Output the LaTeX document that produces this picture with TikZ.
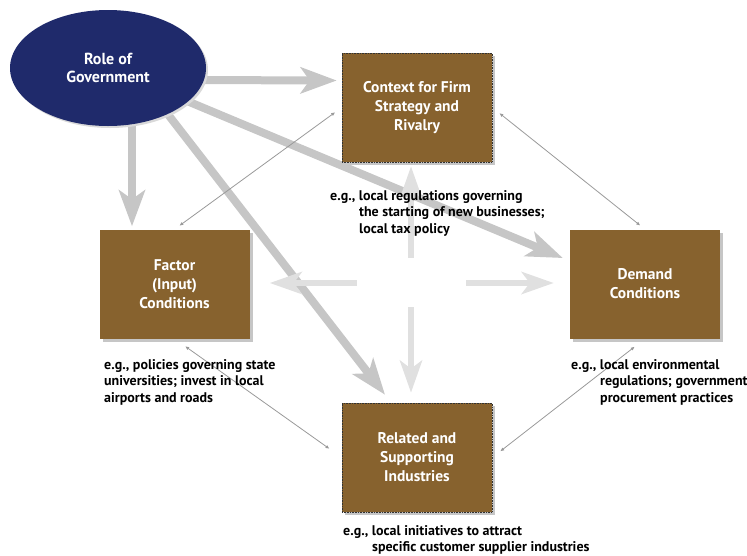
\documentclass[tikz,border=0pt]{standalone}
\usepackage{fontspec}
\setmainfont{PT Sans}
\usetikzlibrary{arrows.meta,calc,shapes.geometric,shadows}
\definecolor{navy}{HTML}{1F2A6B}
\definecolor{brownbox}{HTML}{87622E}
\definecolor{bigarr}{HTML}{C6C6C6}
\definecolor{crossarr}{HTML}{E0E0E0}
\definecolor{thinarr}{HTML}{999999}
\pgfdeclarelayer{background}
\pgfsetlayers{background,main}
\begin{document}
\begin{tikzpicture}[x=1pt,y=-1pt,
  box/.style={rectangle, fill=brownbox, minimum width=150pt, minimum height=109pt, inner sep=0pt,
    text=white, font=\bfseries\fontsize{15.5}{19}\selectfont, align=center,
    drop shadow={shadow xshift=3pt,shadow yshift=-3pt,fill=gray!45,opacity=1}},
  dotbox/.style={box, draw=black!80, densely dotted, line width=0.6pt},
  govnode/.style={ellipse, fill=navy, minimum width=196pt, minimum height=116pt, inner sep=0pt,
    text=white, font=\bfseries\fontsize{16}{18}\selectfont, align=center,
    drop shadow={shadow xshift=2pt,shadow yshift=-2pt,fill=gray!30,opacity=1}},
  bigarrow/.style={draw=bigarr, line width=8pt, -{Stealth[length=36pt,width=26pt,inset=9pt]}},
  crossarrow/.style={draw=crossarr, line width=6pt, -{Stealth[length=32pt,width=22pt,inset=8pt]}},
  thinarrow/.style={draw=thinarr, line width=0.8pt, {Latex[length=4pt,width=3.5pt]}-{Latex[length=4pt,width=3.5pt]}},
  note/.style={font=\bfseries\fontsize{14}{16.5}\selectfont, align=left, anchor=north west, inner sep=0pt}
]
\useasboundingbox (0,0) rectangle (747,555);

% main nodes
\node[govnode] (gov) at (108,68) {Role of\\Government};
\node[dotbox] (ctx) at (417,107.5) {Context for Firm\\Strategy and\\Rivalry};
\node[box] (fac) at (174.5,284) {Factor\\(Input)\\Conditions};
\node[box] (dem) at (645,284) {Demand\\Conditions};
\node[dotbox] (rel) at (417,457.5) {Related and\\Supporting\\Industries};
\coordinate (mid) at (411,283);

% notes
\node[note] (nctx) at (330,190) {e.g., local regulations governing\\\hspace*{29pt}the starting of new businesses;\\\hspace*{29pt}local tax policy};
\node[note] (nfac) at (104,359) {e.g., policies governing state\\universities; invest in local\\airports and roads};
\node[note] (ndem) at (571,359) {e.g., local environmental\\\hspace*{29pt}regulations; government\\\hspace*{29pt}procurement practices};
\node[note] (nrel) at (343,525) {e.g., local initiatives to attract\\\hspace*{29pt}specific customer supplier industries};

\begin{pgfonlayer}{background}
% thick arrows from government
\draw[bigarrow] ($(gov.center)+(80,12)$) -- ($(ctx.west)+(-5,-27)$);
\draw[bigarrow] ($(gov.center)+(24,30)$) -- ($(fac.north)+(-42.5,-3)$);
\draw[bigarrow] (gov.center) -- ($(dem.west)+(-7,-26)$);
\draw[bigarrow] ($(gov.center)+(55,40)$) -- ($(rel.north)+(-32,-8)$);
% cross arrows
\draw[crossarrow, shorten <=25pt] (mid) -- ($(ctx.south)+(-6,4)$);
\draw[crossarrow, shorten <=54pt] (mid) -- ($(fac.east)+(20,-1)$);
\draw[crossarrow, shorten <=55pt] (mid) -- ($(dem.west)+(-16,-1)$);
\draw[crossarrow, shorten <=24pt] (mid) -- ($(rel.north)+(-6,-10)$);
% thin double arrows
\draw[thinarrow, shorten <=8pt, shorten >=6pt] (ctx.west) -- (fac.north);
\draw[thinarrow, shorten <=9pt, shorten >=6pt] (ctx.east) -- (dem.north);
\draw[thinarrow, shorten <=13pt, shorten >=15pt] (fac.south) -- (rel.west);
\draw[thinarrow, shorten <=13pt, shorten >=10pt] (dem.south) -- (rel.east);
\end{pgfonlayer}
\end{tikzpicture}
\end{document}
